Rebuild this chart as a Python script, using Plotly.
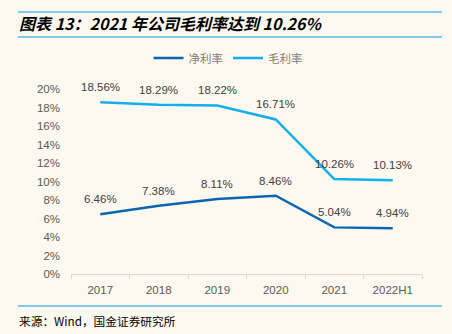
import plotly.graph_objects as go

# Chart data
years = ["2017", "2018", "2019", "2020", "2021", "2022H1"]
net_margin = [6.46, 7.38, 8.11, 8.46, 5.04, 4.94]
gross_margin = [18.56, 18.29, 18.22, 16.71, 10.26, 10.13]
series_names = ["净利率", "毛利率"]
y_ticks = [0, 2, 4, 6, 8, 10, 12, 14, 16, 18, 20]

title_text = "图表 13：2021 年公司毛利率达到 10.26%"
source_text = "来源：Wind，国金证券研究所"

W, H = 452, 334
M_L, M_R, M_T, M_B = 71, 30, 89, 60
PLOT_H = H - M_T - M_B
PLOT_W = W - M_L - M_R

BG = "#FDF9F0"
DARK = "#0B66B2"
LIGHT = "#14AEEB"
RULE = "#5CB9E6"
FONT = "Liberation Sans, Arial, Noto Sans CJK SC"

xs = list(range(len(years)))
boundaries = [i - 0.5 for i in range(len(years) + 1)]


def py(y):
    """Pixel row -> paper y."""
    return (H - M_B - y) / PLOT_H


def px(x):
    """Pixel column -> paper x."""
    return (x - M_L) / PLOT_W


fig = go.Figure()
fig.add_trace(go.Scatter(x=xs, y=net_margin, name=series_names[0], mode="lines",
                         line=dict(color=DARK, width=2.5)))
fig.add_trace(go.Scatter(x=xs, y=gross_margin, name=series_names[1], mode="lines",
                         line=dict(color=LIGHT, width=2.5)))

annotations = []
for series in (net_margin, gross_margin):
    for x, v in zip(xs, series):
        annotations.append(dict(x=x, y=v, xref="x", yref="y", text=f"{v:.2f}%",
                                showarrow=False, yshift=15,
                                font=dict(size=11.5, color="#404040", family=FONT)))

annotations.append(dict(x=px(17), y=py(23), xref="paper", yref="paper", text=f"<b><i>{title_text}</i></b>",
                        showarrow=False, xanchor="left", yanchor="middle",
                        font=dict(size=16, color="#000000", family="Noto Sans CJK SC, Liberation Sans")))
annotations.append(dict(x=px(17), y=py(320), xref="paper", yref="paper", text=source_text,
                        showarrow=False, xanchor="left", yanchor="middle",
                        font=dict(size=11.7, color="#000000", family="Noto Sans CJK SC, Liberation Sans")))

shapes = []
for yy in (12, 37, 306):
    shapes.append(dict(type="line", xref="paper", yref="paper", x0=px(18), x1=px(442),
                       y0=py(yy), y1=py(yy), line=dict(color=RULE, width=1.6)))

fig.update_layout(
    width=W, height=H,
    margin=dict(l=M_L, r=M_R, t=M_T, b=M_B),
    paper_bgcolor=BG, plot_bgcolor=BG,
    showlegend=True,
    legend=dict(orientation="h", x=px(228), xanchor="center", y=py(58), yanchor="middle",
                font=dict(size=11.5, color="#7F7F7F", family="Noto Sans CJK SC"),
                bgcolor="rgba(0,0,0,0)"),
    annotations=annotations,
    shapes=shapes,
    xaxis=dict(range=[-0.5, len(years) - 0.5], tickvals=xs, ticktext=years, ticks="",
               showgrid=False, showline=True, linecolor="#D9D9D9", linewidth=1,
               minor=dict(tickvals=boundaries, ticks="outside", ticklen=4, tickcolor="#D9D9D9",
                          showgrid=False),
               ticklabelstandoff=5,
               tickfont=dict(size=11.5, color="#595959", family=FONT), zeroline=False),
    yaxis=dict(range=[0, 20], tickvals=y_ticks, ticktext=[f"{t}%" for t in y_ticks],
               showgrid=False, showline=False, zeroline=False, ticks="",
               tickfont=dict(size=11.5, color="#595959", family=FONT), ticklabelstandoff=10),
)

fig.write_html("out.html")
